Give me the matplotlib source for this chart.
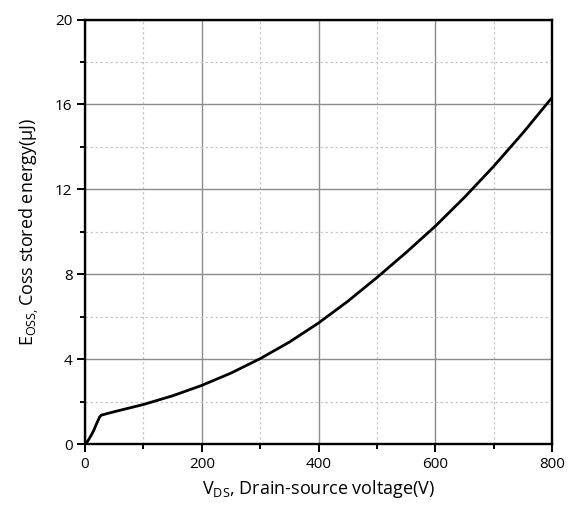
import numpy as np
import matplotlib.pyplot as plt
from matplotlib.ticker import MultipleLocator

plt.rcParams['font.family'] = ['Open Sans', 'DejaVu Sans']
plt.rcParams['mathtext.fontset'] = 'custom'
plt.rcParams['mathtext.rm'] = 'Open Sans'

# Eoss curve
vds = [0, 5, 10, 15, 20, 25, 28, 50, 100, 150, 200, 250, 300, 350, 400,
       450, 500, 550, 600, 650, 700, 750, 800]
eoss = [0, 0.15, 0.38, 0.64, 0.97, 1.27, 1.36, 1.52, 1.86, 2.27, 2.76, 3.34,
        4.02, 4.80, 5.70, 6.72, 7.84, 9.02, 10.26, 11.62, 13.08, 14.65, 16.32]

fig = plt.figure(figsize=(5.72, 5.07), dpi=100)
ax = fig.add_axes([85/572, 63/507, 467/572, 424.5/507])

ax.plot(vds, eoss, color='black', lw=2.0, zorder=3)

ax.set_xlim(0, 800)
ax.set_ylim(0, 20)
ax.xaxis.set_major_locator(MultipleLocator(200))
ax.xaxis.set_minor_locator(MultipleLocator(100))
ax.yaxis.set_major_locator(MultipleLocator(4))
ax.yaxis.set_minor_locator(MultipleLocator(2))

ax.grid(True, which='major', color='#8c8c8c', lw=1.0, ls='-')
ax.grid(True, which='minor', color='#c8c8c8', lw=0.9, ls=(0, (2, 2)))

for s in ax.spines.values():
    s.set_linewidth(1.7)
    s.set_color('black')

ax.tick_params(which='major', direction='out', length=6, width=1.4,
               labelsize=11, pad=3, top=False, right=False)
ax.tick_params(which='minor', direction='out', length=3.5, width=1.4,
               top=False, right=False)

ax.set_xlabel(r'V$_{\mathregular{DS}}$, Drain-source voltage(V)', fontsize=13, labelpad=5)
ax.set_ylabel(r'E$_{\mathregular{OSS,}}$Coss stored energy(μJ)', fontsize=13, labelpad=10)

fig.savefig('out.png', dpi=100)
